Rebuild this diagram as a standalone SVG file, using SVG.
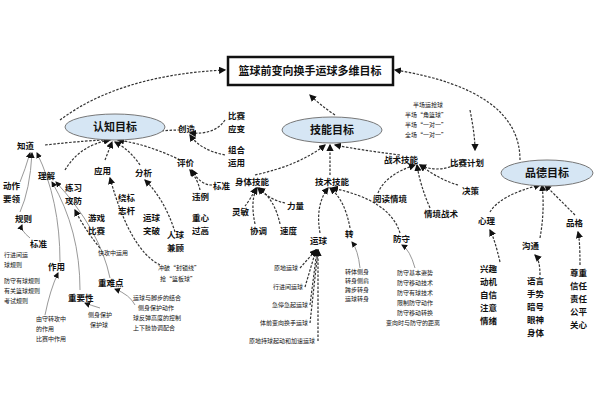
<svg xmlns="http://www.w3.org/2000/svg" width="600" height="400" viewBox="0 0 600 400">
<style>
text{font-family:"Noto Sans CJK SC","Liberation Sans",sans-serif;fill:#111}
.m{font-size:8.5px;font-weight:bold}
.t{font-size:11px;font-weight:bold}
.s{font-size:6px}
.c{fill:#d6e6f4;stroke:#777;stroke-width:1}
.d{fill:none;stroke:#333;stroke-width:1.2;stroke-dasharray:2.5 1.5;marker-end:url(#a)}
.g{fill:none;stroke:#999;stroke-width:1;marker-end:url(#a)}
</style>
<defs><marker id="a" markerWidth="6" markerHeight="6" refX="5" refY="3" orient="auto"><path d="M0,0L6,3L0,6z" fill="#111"/></marker></defs>
<rect width="600" height="400" fill="#fff"/>
<g id="connectors">
<path class="d" d="M60,120Q120,75 225,70"/>
<path class="d" d="M520,160Q520,90 395,70"/>
<path class="d" d="M335,115Q320,105 310,95"/>
<path class="d" d="M45,145Q90,140 110,140"/>
<path class="d" d="M65,170Q80,145 110,140"/>
<path class="d" d="M105,160L112,142"/>
<path class="d" d="M140,165Q130,150 115,142"/>
<path class="d" d="M180,130Q150,130 118,140"/>
<path class="d" d="M180,160Q150,145 118,140"/>
<path class="d" d="M225,120Q215,135 190,133"/>
<path class="d" d="M225,155Q200,150 190,135"/>
<path class="d" d="M212,185Q200,185 192,170"/>
<path class="d" d="M200,190Q198,180 190,170"/>
<path class="d" d="M255,175Q300,165 325,145"/>
<path class="d" d="M330,175L330,145"/>
<path class="d" d="M400,155Q360,150 335,145"/>
<path class="d" d="M245,206Q250,200 256,188"/>
<path class="d" d="M285,203Q270,200 258,188"/>
<path class="d" d="M255,224Q250,200 257,188"/>
<path class="d" d="M280,224Q275,200 259,188"/>
<path class="d" d="M320,233Q315,205 328,188"/>
<path class="d" d="M350,228Q345,200 330,188"/>
<path class="d" d="M400,233Q390,200 332,188"/>
<path class="d" d="M378,193Q385,175 415,165"/>
<path class="d" d="M430,208Q420,185 417,165"/>
<path class="d" d="M458,185Q440,180 420,165"/>
<path class="d" d="M465,160Q440,175 420,165"/>
<path class="d" d="M470,110Q475,135 475,150"/>
<path class="d" d="M490,212Q500,195 540,185"/>
<path class="d" d="M540,238Q545,210 542,185"/>
<path class="d" d="M575,215Q560,200 545,185"/>
<path class="d" d="M300,268L316,250"/><path class="d" d="M305,287L316,250"/><path class="d" d="M310,305L317,250"/>
<path class="d" d="M310,323L318,250"/><path class="d" d="M318,341L318,250"/>
<path class="g" d="M20,182Q25,170 30,153"/>
<path class="g" d="M20,212Q30,190 32,153"/>
<path class="g" d="M30,238Q20,230 22,225"/>
<path class="g" d="M60,262Q60,200 37,153"/>
<path class="g" d="M80,290Q80,230 52,182"/>
<path class="g" d="M110,278Q100,230 56,182"/>
<path class="g" d="M45,315Q50,290 58,273"/>
<path class="g" d="M100,308Q90,305 85,303"/>
<path class="g" d="M135,305Q130,295 115,289"/>
<path class="d" d="M100,248Q85,230 75,210"/>
<path class="d" d="M160,265Q130,250 110,178"/>
<path class="d" d="M175,232Q165,200 145,180"/>
<path class="d" d="M500,262Q495,240 490,230"/>
<path class="d" d="M540,275Q540,260 535,255"/>
<path class="d" d="M580,265Q580,240 578,232"/>
<path class="g" d="M360,268Q358,250 352,242"/>
<path class="g" d="M415,268Q410,250 402,245"/>
</g>
<g id="title"><rect x="228" y="57" width="165" height="28" fill="#fff" stroke="#111" stroke-width="2.5"/><text class="t" x="310" y="75" text-anchor="middle">篮球前变向换手运球多维目标</text></g>
<g id="n1"><ellipse class="c" cx="115" cy="127" rx="50" ry="13"/><text class="t" x="115" y="131" text-anchor="middle">认知目标</text></g>
<g id="n2"><ellipse class="c" cx="332" cy="130" rx="50" ry="13"/><text class="t" x="332" y="134" text-anchor="middle">技能目标</text></g>
<g id="n3"><ellipse class="c" cx="547" cy="173" rx="46" ry="13"/><text class="t" x="547" y="177" text-anchor="middle">品德目标</text></g>
<g id="labels">
<text class="m" x="17" y="149">知道</text><text class="m" x="178" y="132">创造</text>
<text class="m" x="228" y="119">比赛</text><text class="m" x="228" y="132">应变</text>
<text class="m" x="228" y="153">组合</text><text class="m" x="228" y="166">运用</text>
<text class="m" x="177" y="166">评价</text><text class="m" x="213" y="189">标准</text>
<text class="m" x="192" y="200">违例</text><text class="m" x="192" y="221">重心</text><text class="m" x="192" y="234">过高</text>
<text class="m" x="38" y="179">理解</text><text class="m" x="94" y="174">应用</text><text class="m" x="135" y="176">分析</text>
<text class="m" x="65" y="191">练习</text><text class="m" x="65" y="204">攻防</text>
<text class="m" x="118" y="201">绕标</text><text class="m" x="118" y="214">志杆</text>
<text class="m" x="88" y="221">游戏</text><text class="m" x="88" y="234">比赛</text>
<text class="m" x="143" y="221">运球</text><text class="m" x="143" y="234">突破</text>
<text class="m" x="167" y="238">人球</text><text class="m" x="167" y="251">兼顾</text>
<text class="m" x="3" y="189">动作</text><text class="m" x="3" y="202">要领</text>
<text class="m" x="15" y="222">规则</text><text class="m" x="30" y="247">标准</text>
<text class="s" x="4" y="257">行进间运</text><text class="s" x="4" y="267">球规则</text>
<text class="m" x="48" y="270">作用</text>
<text class="s" x="4" y="283">防守有球规则</text><text class="s" x="4" y="293">有关篮球规则</text><text class="s" x="4" y="303">考试规则</text>
<text class="m" x="68" y="301">重要性</text><text class="m" x="98" y="286">重难点</text>
<text class="s" x="36" y="321">由守转攻中</text><text class="s" x="36" y="331">的作用</text><text class="s" x="36" y="341">比赛中作用</text>
<text class="s" x="88" y="317">侧身保护</text><text class="s" x="90" y="327">保护球</text>
<text class="s" x="133" y="300">运球与脚步的结合</text><text class="s" x="138" y="310">侧身保护动作</text><text class="s" x="133" y="320">球反弹高度的控制</text><text class="s" x="133" y="330">上下肢协调配合</text>
<text class="s" x="98" y="255">快攻中运用</text>
<text class="s" x="158" y="270">冲破“封锁线”</text><text class="s" x="160" y="281">抢“篮板球”</text>
<text class="m" x="235" y="185">身体技能</text><text class="m" x="315" y="185">技术技能</text><text class="m" x="384" y="163">战术技能</text>
<text class="m" x="232" y="215">灵敏</text><text class="m" x="287" y="209">力量</text><text class="m" x="250" y="234">协调</text><text class="m" x="280" y="234">速度</text>
<text class="m" x="310" y="244">运球</text><text class="m" x="345" y="237">转</text><text class="m" x="393" y="242">防守</text>
<text class="m" x="373" y="202">阅读情境</text><text class="m" x="424" y="217">情境战术</text>
<text class="m" x="450" y="166">比赛计划</text><text class="m" x="462" y="194">决策</text>
<text class="s" x="413" y="107">半场运抢球</text><text class="s" x="405" y="117">半场“角篮球”</text><text class="s" x="405" y="127">半场“一对一”</text><text class="s" x="405" y="137">全场“一对一”</text>
<text class="s" x="298" y="270" text-anchor="end">原地运球</text><text class="s" x="303" y="289" text-anchor="end">行进间运球</text>
<text class="s" x="308" y="307" text-anchor="end">急停急起运球</text><text class="s" x="308" y="325" text-anchor="end">体前变向换手运球</text>
<text class="s" x="315" y="343" text-anchor="end">原地持球起动和加速运球</text>
<text class="s" x="345" y="274">转体侧身</text><text class="s" x="345" y="283">转身侧肩</text><text class="s" x="345" y="292">跨步转身</text><text class="s" x="345" y="301">运球转身</text>
<text class="s" x="397" y="275">防守基本姿势</text><text class="s" x="397" y="285">防守移动技术</text><text class="s" x="397" y="295">防守有球技术</text>
<text class="s" x="397" y="305">限制防守动作</text><text class="s" x="397" y="315">防守移动转换</text><text class="s" x="386" y="325">变向时与防守的距离</text>
<text class="m" x="478" y="224">心理</text><text class="m" x="522" y="249">沟通</text><text class="m" x="566" y="226">品格</text>
<text class="m" x="480" y="272">兴趣</text><text class="m" x="480" y="285">动机</text><text class="m" x="480" y="298">自信</text><text class="m" x="480" y="311">注意</text><text class="m" x="480" y="324">情绪</text>
<text class="m" x="527" y="284">语言</text><text class="m" x="527" y="297">手势</text><text class="m" x="527" y="310">暗号</text><text class="m" x="527" y="323">眼神</text><text class="m" x="527" y="336">身体</text>
<text class="m" x="570" y="276">尊重</text><text class="m" x="570" y="289">信任</text><text class="m" x="570" y="302">责任</text><text class="m" x="570" y="315">公平</text><text class="m" x="570" y="328">关心</text>
</g>
</svg>
